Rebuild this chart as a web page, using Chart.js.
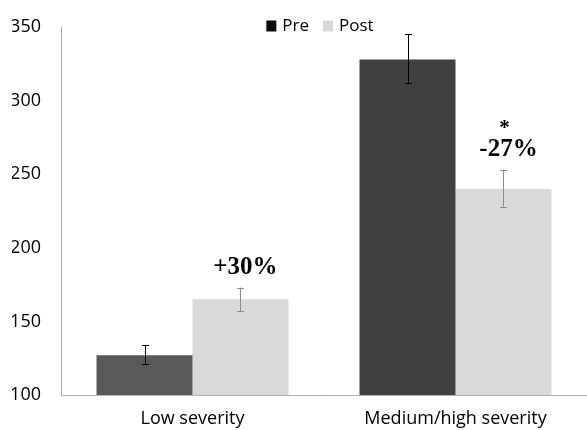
<!DOCTYPE html>
<html>
<head>
<meta charset="utf-8">
<script src="https://cdn.jsdelivr.net/npm/chart.js@4"></script>
<style>
html,body{margin:0;padding:0;background:#fff;}
canvas{display:block;}
</style>
</head>
<body>
<canvas id="c" width="587" height="430"></canvas>
<script>
const categories = ['Low severity', 'Medium/high severity'];
const seriesNames = ['Pre', 'Post'];
const preValues = [127, 328];
const postValues = [165, 240];
const preErrLow = [121, 312];
const preErrHigh = [134, 345];
const postErrLow = [157, 228];
const postErrHigh = [173, 253];
const changeLabels = ['+30%', '-27%'];
const sigMarks = ['', '*'];
const yTicks = [100, 150, 200, 250, 300, 350];

const preBarColors = ['#595959', '#404040'];
const postColor = '#d9d9d9';

const errorBars = {
  id: 'errorBars',
  afterDatasetsDraw(chart) {
    const ctx = chart.ctx;
    const y = chart.scales.y;
    const sets = [
      {lo: preErrLow, hi: preErrHigh, color: '#000000'},
      {lo: postErrLow, hi: postErrHigh, color: '#8c8c8c'}
    ];
    sets.forEach((s, di) => {
      const meta = chart.getDatasetMeta(di);
      meta.data.forEach((bar, i) => {
        const x = Math.round(bar.x) + 0.5;
        const yl = y.getPixelForValue(s.lo[i]);
        const yh = y.getPixelForValue(s.hi[i]);
        ctx.save();
        ctx.strokeStyle = s.color;
        ctx.lineWidth = 1;
        ctx.beginPath();
        ctx.moveTo(x, yl); ctx.lineTo(x, yh);
        ctx.moveTo(x - 3.5, Math.round(yl) + 0.5); ctx.lineTo(x + 3.5, Math.round(yl) + 0.5);
        ctx.moveTo(x - 3.5, Math.round(yh) + 0.5); ctx.lineTo(x + 3.5, Math.round(yh) + 0.5);
        ctx.stroke();
        ctx.restore();
      });
    });
    const meta = chart.getDatasetMeta(1);
    meta.data.forEach((bar, i) => {
      const yh = y.getPixelForValue(postErrHigh[i]);
      ctx.save();
      ctx.fillStyle = '#000';
      ctx.textAlign = 'center';
      ctx.textBaseline = 'alphabetic';
      ctx.font = 'bold 25px "Liberation Serif", "Times New Roman", serif';
      ctx.fillText(changeLabels[i], bar.x + 5, yh - 14);
      if (sigMarks[i]) {
        ctx.font = 'bold 21px "Liberation Serif", "Times New Roman", serif';
        ctx.fillText(sigMarks[i], bar.x + 1, yh - 36);
      }
      ctx.restore();
    });
  }
};

const customLegend = {
  id: 'customLegend',
  afterDraw(chart) {
    const ctx = chart.ctx;
    const ca = chart.chartArea;
    ctx.save();
    ctx.font = '17px "Open Sans", sans-serif';
    ctx.textBaseline = 'middle';
    ctx.textAlign = 'left';
    const box = 10, gapText = 6, gapItem = 14;
    const swatch = ['#0d0d0d', postColor];
    let total = 0;
    seriesNames.forEach((n, i) => {
      total += box + gapText + ctx.measureText(n).width + (i < seriesNames.length - 1 ? gapItem : 0);
    });
    let x = (ca.left + ca.right) / 2 - total / 2 - 4;
    const cy = 26;
    seriesNames.forEach((n, i) => {
      ctx.fillStyle = swatch[i];
      ctx.fillRect(x, cy - 5.5, box, 11);
      x += box + gapText;
      ctx.fillStyle = '#000';
      ctx.fillText(n, x, cy);
      x += ctx.measureText(n).width + gapItem;
    });
    ctx.restore();
  }
};

new Chart(document.getElementById('c'), {
  type: 'bar',
  data: {
    labels: categories,
    datasets: [
      {label: seriesNames[0], data: preValues, backgroundColor: preBarColors, borderWidth: 0},
      {label: seriesNames[1], data: postValues, backgroundColor: postColor, borderWidth: 0}
    ]
  },
  options: {
    responsive: false,
    animation: false,
    layout: {padding: {top: 27, right: 0, bottom: 0, left: 12}},
    datasets: {bar: {barPercentage: 1.0, categoryPercentage: 0.73}},
    plugins: {legend: {display: false}, tooltip: {enabled: false}},
    scales: {
      x: {
        grid: {display: false, drawTicks: false},
        border: {display: true, color: '#b3b3b3', width: 1},
        ticks: {color: '#000', font: {family: 'Open Sans', size: 18}, padding: 13, maxRotation: 0},
        afterFit(axis) { axis.height = 35; axis.paddingLeft = 0; axis.paddingRight = 0; }
      },
      y: {
        min: 100, max: 350,
        afterBuildTicks(axis) { axis.ticks = yTicks.map(v => ({value: v})); },
        grid: {display: false, drawTicks: false},
        border: {display: true, color: '#b3b3b3', width: 1},
        ticks: {color: '#000', font: {family: 'Open Sans', size: 18}, padding: 20},
        afterFit(axis) { axis.width = 49; axis.paddingTop = 0; axis.paddingBottom = 0; }
      }
    }
  },
  plugins: [errorBars, customLegend]
});
</script>
</body>
</html>
